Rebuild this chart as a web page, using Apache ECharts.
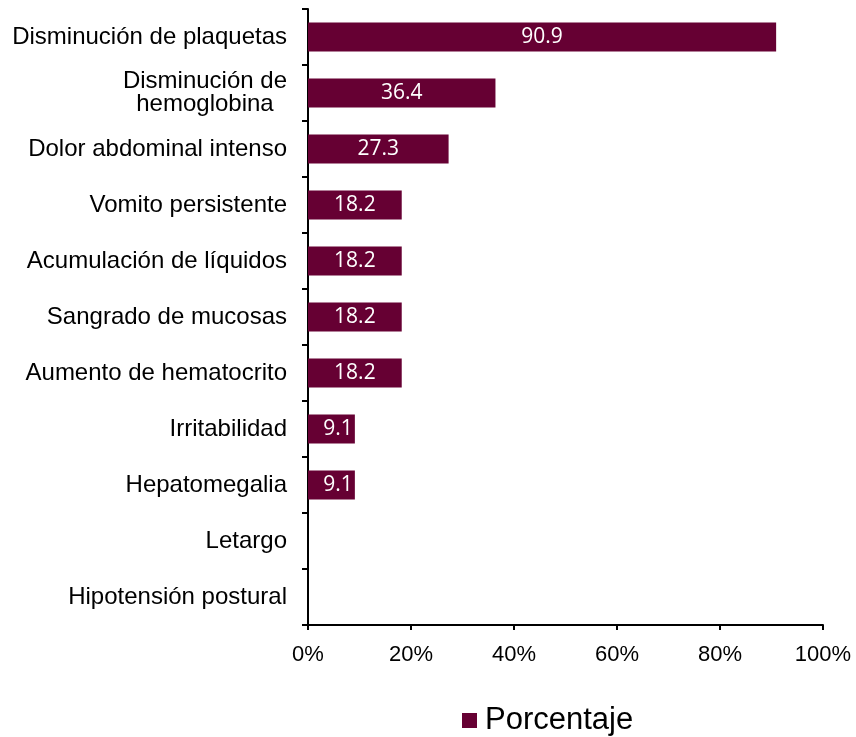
<!DOCTYPE html>
<html><head><meta charset="utf-8">
<script src="https://cdn.jsdelivr.net/npm/echarts@6/dist/echarts.min.js"></script>
<style>html,body{margin:0;padding:0;background:#fff}#c{width:856px;height:737px}</style>
</head><body><div id="c"></div>
<script>
const categories = [
  "Disminución de plaquetas",
  "Disminución de\nhemoglobina",
  "Dolor abdominal intenso",
  "Vomito persistente",
  "Acumulación de líquidos",
  "Sangrado de mucosas",
  "Aumento de hematocrito",
  "Irritabilidad",
  "Hepatomegalia",
  "Letargo",
  "Hipotensión postural"
];
const porcentaje = [90.9, 36.4, 27.3, 18.2, 18.2, 18.2, 18.2, 9.1, 9.1, 0, 0];
const xTicks = [0, 20, 40, 60, 80, 100];
const seriesName = "Porcentaje";

const chart = echarts.init(document.getElementById('c'));
chart.setOption({
  animation: false,
  grid: { left: 308, right: 33, top: 9, bottom: 112 },
  legend: {
    data: [seriesName],
    left: 457, top: 700,
    itemWidth: 15, itemHeight: 15,
    icon: 'rect',
    textStyle: { fontFamily: 'Liberation Sans, Arial', fontSize: 31, color: '#000', padding: [0,0,0,3] }
  },
  xAxis: {
    type: 'value', min: xTicks[0], max: xTicks[xTicks.length-1], interval: 20,
    axisLine: { show: true, lineStyle: { color: '#000', width: 2 } },
    axisTick: { show: true, length: 5, lineStyle: { color: '#000', width: 2 } },
    splitLine: { show: false },
    axisLabel: { formatter: v => v + '%', fontFamily: 'Liberation Sans, Arial', fontSize: 22, color: '#000', margin: 19 }
  },
  yAxis: {
    type: 'category', data: categories, inverse: true,
    axisLine: { show: true, lineStyle: { color: '#000', width: 2 } },
    axisTick: { show: true, length: 6, alignWithLabel: false, lineStyle: { color: '#000', width: 2 } },
    axisLabel: {
      margin: 21, color: '#000', fontFamily: 'Liberation Sans, Arial', fontSize: 24, lineHeight: 23,
      interval: 0,
      formatter: v => v.split('\n').map(s => '{c|' + s + '}').join('\n'),
      rich: { c: { align: 'center', fontFamily: 'Liberation Sans, Arial', fontSize: 24, lineHeight: 23, color: '#000' } }
    }
  },
  series: [{
    name: seriesName, type: 'bar', barWidth: 29,
    itemStyle: { color: '#660033' },
    data: porcentaje.map(v => ({
      value: v,
      label: { position: v < 10 ? 'insideRight' : 'inside', distance: 2 }
    })),
    label: {
      show: true, color: '#fff', fontFamily: 'Open Sans, Lato', fontSize: 21,
      formatter: p => p.value > 0 ? p.value.toFixed(1) : ''
    }
  }]
});
</script></body></html>
